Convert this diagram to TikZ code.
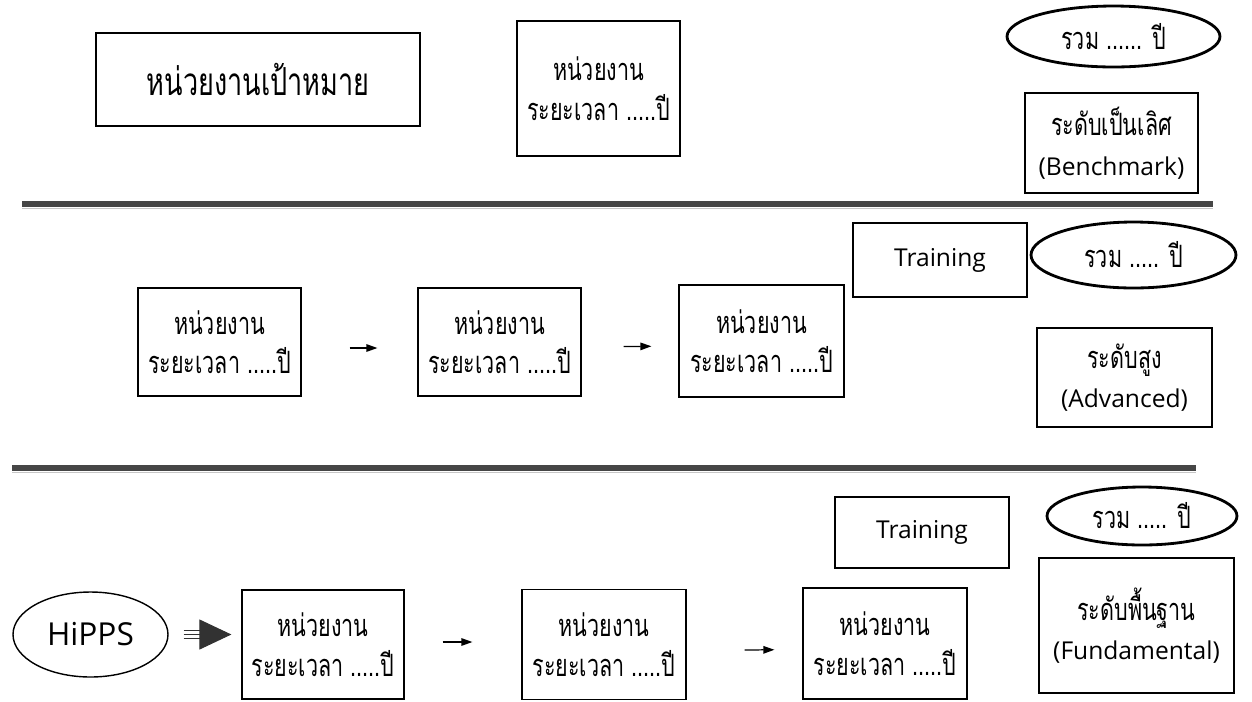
\documentclass[tikz,border=0pt]{standalone}
\usepackage{fontspec}
\setmainfont{Open Sans}
\newfontfamily\thaifont[Script=Thai, FakeStretch=0.7]{Loma}
\usepackage{tikz}
\usetikzlibrary{shapes.geometric, arrows.meta, positioning}
\definecolor{darkgray}{RGB}{50, 50, 50}
\definecolor{rulegray}{RGB}{70, 70, 70}

\begin{document}
\begin{tikzpicture}[
	x=0.02cm, y=-0.02cm,
	unitbox/.style={rectangle, draw=black, line width=0.7pt, align=center, font=\thaifont\fontsize{17.5}{22.5}\selectfont},
	totalnode/.style={ellipse, draw=black, line width=1.6pt, inner sep=0pt, font=\thaifont\fontsize{17.5}{22}\selectfont},
	trainbox/.style={rectangle, draw=black, line width=0.7pt, font=\fontsize{14}{17}\selectfont},
	flow/.style={-{Triangle[length=0.22cm, width=0.15cm]}, line width=0.7pt},
	rulebar/.style={line width=3.4pt, rulegray}
	]
	\useasboundingbox (0,0) rectangle (1252,701);

	% Benchmark level
	\node[unitbox, minimum width=6.48cm, minimum height=1.86cm, font=\thaifont\fontsize{22}{26}\selectfont] (target) at (258, 79.5) {หน่วยงานเป้าหมาย};
	\node[unitbox, minimum width=3.26cm, minimum height=2.7cm] (u0) at (598.5, 88.5) {หน่วยงาน\\ระยะเวลา .....ปี};
	\node[totalnode, minimum width=4.26cm, minimum height=1.22cm] (sum1) at (1113.5, 36.5) {รวม ...... ปี};
	\node[unitbox, minimum width=3.46cm, minimum height=2.0cm] (bench) at (1111.5, 143) {ระดับเป็นเลิศ\\{\rmfamily\fontsize{14}{22}\selectfont (Benchmark)}};
	\draw[rulebar] (22, 204) -- (1213, 204);
	\draw[gray!45, line width=0.5pt] (22, 208.5) -- (1213, 208.5);

	% Advanced level
	\node[unitbox, minimum width=3.26cm, minimum height=2.16cm] (m1) at (219.5, 342) {หน่วยงาน\\ระยะเวลา .....ปี};
	\node[unitbox, minimum width=3.26cm, minimum height=2.16cm] (m2) at (499.5, 342) {หน่วยงาน\\ระยะเวลา .....ปี};
	\node[unitbox, minimum width=3.3cm, minimum height=2.24cm] (m3) at (761.5, 341) {หน่วยงาน\\ระยะเวลา .....ปี};
	\node[trainbox, minimum width=3.48cm, minimum height=1.48cm] (train1) at (940, 260) {Training};
	\node[totalnode, minimum width=4.1cm, minimum height=1.32cm] (sum2) at (1133.5, 255) {รวม ..... ปี};
	\node[unitbox, minimum width=3.5cm, minimum height=1.98cm] (adv) at (1124.5, 377.5) {ระดับสูง\\{\rmfamily\fontsize{14}{22}\selectfont (Advanced)}};
	\draw[flow, shorten <=0.96cm, shorten >=0.8cm] ([yshift=-0.12cm]m1.east) -- ([yshift=-0.12cm]m2.west);
	\draw[flow, shorten <=0.84cm, shorten >=0.54cm] ([yshift=-0.1cm]m2.east) -- ([yshift=-0.1cm]m3.west);
	\draw[rulebar] (12, 468) -- (1196, 468);
	\draw[gray!45, line width=0.5pt] (12, 472.5) -- (1196, 472.5);

	% Fundamental level
	\node[totalnode, line width=0.8pt, minimum width=3.1cm, minimum height=1.7cm, font=\fontsize{18}{22}\selectfont] (hipps) at (90.5, 634.5) {HiPPS};
	\node[unitbox, minimum width=3.24cm, minimum height=2.18cm] (b1) at (323, 644.5) {หน่วยงาน\\ระยะเวลา .....ปี};
	\node[unitbox, minimum width=3.28cm, minimum height=2.2cm] (b2) at (604, 644.5) {หน่วยงาน\\ระยะเวลา .....ปี};
	\node[unitbox, minimum width=3.28cm, minimum height=2.22cm] (b3) at (885, 643.5) {หน่วยงาน\\ระยะเวลา .....ปี};
	\node[trainbox, minimum width=3.48cm, minimum height=1.42cm] (train2) at (922, 532.5) {Training};
	\node[totalnode, minimum width=3.8cm, minimum height=1.16cm] (sum3) at (1142, 516) {รวม ..... ปี};
	\node[unitbox, minimum width=3.9cm, minimum height=2.7cm] (fund) at (1136.5, 625.5) {ระดับพื้นฐาน\\{\rmfamily\fontsize{14}{22}\selectfont (Fundamental)}};
	\draw[darkgray, line width=0.6pt, -{Triangle[length=0.64cm, width=0.6cm]}, shorten <=0.3cm, shorten >=0.2cm] (hipps.east) -- (b1.west |- hipps.east);
	\draw[darkgray, line width=0.6pt, shorten <=0.3cm, shorten >=0.7cm] ([yshift=0.08cm]hipps.east) -- ([yshift=0.08cm]b1.west |- hipps.east);
	\draw[darkgray, line width=0.6pt, shorten <=0.3cm, shorten >=0.7cm] ([yshift=-0.08cm]hipps.east) -- ([yshift=-0.08cm]b1.west |- hipps.east);
	\draw[flow, shorten <=0.76cm, shorten >=0.98cm] ([yshift=0.05cm]b1.east) -- ([yshift=0.05cm]b2.west);
	\draw[flow, shorten <=1.16cm, shorten >=0.56cm] ([yshift=-0.12cm]b2.east) -- ([yshift=-0.12cm]b3.west);
\end{tikzpicture}
\end{document}
